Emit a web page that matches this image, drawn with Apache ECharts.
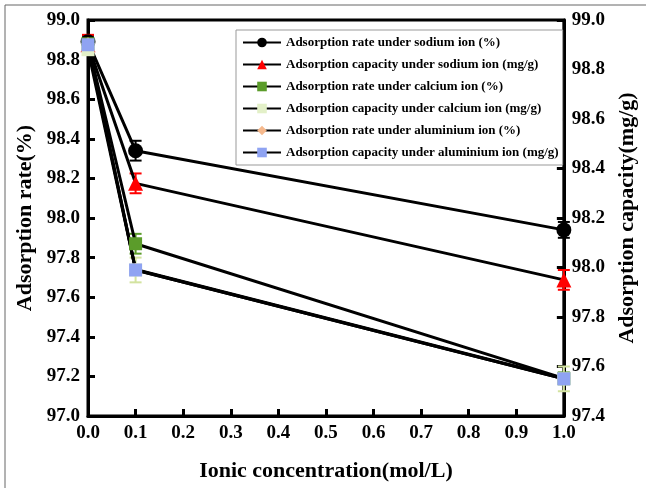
<!DOCTYPE html>
<html><head><meta charset="utf-8">
<script src="https://cdn.jsdelivr.net/npm/echarts@6/dist/echarts.min.js"></script>
<style>html,body{margin:0;padding:0;background:#fff}#c{width:646px;height:488px}</style>
</head><body><div id="c"></div>
<script>
const xVals = [0, 0.1, 1.0];
const xTicks = ['0.0','0.1','0.2','0.3','0.4','0.5','0.6','0.7','0.8','0.9','1.0'];
const naRate = [98.89, 98.34, 97.94];
const naRateErr = [0.03, 0.05, 0.04];
const naCap = [98.90, 98.34, 97.95];
const naCapErr = [0.04, 0.04, 0.04];
const caRate = [98.88, 97.87, 97.19];
const caRateErr = [0.03, 0.05, 0.03];
const caCap = [98.88, 97.99, 97.55];
const caCapErr = [0.02, 0.05, 0.05];
const alRate = [98.88, 97.74, 97.19];
const alRateErr = [0.02, 0.02, 0.02];
const alCap = [98.90, 97.99, 97.55];
const alCapErr = [0.02, 0.02, 0.02];
const names = [
 'Adsorption rate under sodium ion (%)',
 'Adsorption capacity under sodium ion (mg/g)',
 'Adsorption rate under calcium ion (%)',
 'Adsorption capacity under calcium ion (mg/g)',
 'Adsorption rate under aluminium ion (%)',
 'Adsorption capacity under aluminium ion (mg/g)'
];
const FONT = '"Liberation Serif", "Times New Roman", serif';
const defs = [
 {vals: naRate, err: naRateErr, axis: 0, color: '#000000', symbol: 'circle', size: 15},
 {vals: naCap, err: naCapErr, axis: 1, color: '#ff0000', symbol: 'triangle', size: 15},
 {vals: caRate, err: caRateErr, axis: 0, color: '#5b9c2a', symbol: 'rect', size: 13},
 {vals: caCap, err: caCapErr, axis: 1, color: '#e3f0c8', symbol: 'rect', size: 13},
 {vals: alRate, err: alRateErr, axis: 0, color: '#f6b98d', symbol: 'diamond', size: 13},
 {vals: alCap, err: alCapErr, axis: 1, color: '#8fa3f2', symbol: 'rect', size: 13}
];
const series = [];
defs.forEach((d, i) => {
  series.push({
    type: 'custom', yAxisIndex: d.axis, z: 3,
    data: xVals.map((x, k) => [x, d.vals[k], d.err[k]]),
    renderItem: function (params, api) {
      const x = api.value(0), v = api.value(1), e = api.value(2);
      const hi = api.coord([x, v + e]); const lo = api.coord([x, v - e]);
      const cw = 6;
      const st = {stroke: d.color === '#e3f0c8' ? '#d3e3a0' : d.color, lineWidth: 2};
      return {type: 'group', children: [
        {type: 'line', shape: {x1: hi[0], y1: hi[1], x2: lo[0], y2: lo[1]}, style: st},
        {type: 'line', shape: {x1: hi[0]-cw, y1: hi[1], x2: hi[0]+cw, y2: hi[1]}, style: st},
        {type: 'line', shape: {x1: lo[0]-cw, y1: lo[1], x2: lo[0]+cw, y2: lo[1]}, style: st}
      ]};
    },
    silent: true
  });
  series.push({
    name: names[i], type: 'line', yAxisIndex: d.axis, z: 4,
    data: xVals.map((x, k) => [x, d.vals[k]]),
    symbol: d.symbol, symbolSize: d.size, showAllSymbol: true,
    lineStyle: {color: '#000', width: 3},
    itemStyle: {color: d.color, borderWidth: 0},
    emphasis: {disabled: true},
    animation: false
  });
});
const chart = echarts.init(document.getElementById('c'), null, {renderer: 'canvas'});
const axLabel = {fontFamily: FONT, fontWeight: 'bold', fontSize: 19, color: '#000'};
const nameStyle = {fontFamily: FONT, fontWeight: 'bold', fontSize: 22, color: '#000'};
chart.setOption({
  animation: false,
  backgroundColor: '#fff',
  graphic: [{type: 'rect', shape: {x: 5, y: 5, width: 800, height: 700}, style: {fill: 'none', stroke: '#666', lineWidth: 1}, z: -1}],
  grid: {left: 88, right: 78, top: 20, bottom: 72, show: true, borderColor: '#000', borderWidth: 3},
  legend: {
    data: names, left: 236, top: 30, orient: 'vertical',
    itemWidth: 38, itemHeight: 12, itemGap: 9, padding: [6, 4, 6, 6],
    borderColor: '#999', borderWidth: 1, backgroundColor: '#fff',
    textStyle: {fontFamily: FONT, fontWeight: 'bold', fontSize: 13, color: '#000'},
    selectedMode: false
  },
  xAxis: {
    type: 'value', min: 0, max: 1, interval: 0.1,
    name: 'Ionic concentration(mol/L)', nameLocation: 'middle', nameGap: 44, nameTextStyle: nameStyle,
    axisLine: {lineStyle: {color: '#000', width: 3}},
    axisTick: {inside: true, length: 7, lineStyle: {color: '#000', width: 3}},
    axisLabel: Object.assign({margin: 8, formatter: (v) => xTicks[Math.round(v * 10)]}, axLabel),
    splitLine: {show: false}
  },
  yAxis: [{
    type: 'value', min: 97.0, max: 99.0, interval: 0.2,
    name: 'Adsorption rate(%)', nameLocation: 'middle', nameGap: 52, nameTextStyle: nameStyle,
    axisLine: {show: true, lineStyle: {color: '#000', width: 3}},
    axisTick: {show: true, inside: true, length: 7, lineStyle: {color: '#000', width: 3}},
    axisLabel: Object.assign({margin: 8, formatter: (v) => v.toFixed(1)}, axLabel),
    splitLine: {show: false}
  }, {
    type: 'value', min: 97.4, max: 99.0, interval: 0.2, position: 'right',
    name: 'Adsorption capacity(mg/g)', nameLocation: 'middle', nameGap: 50, nameRotate: 90, nameTextStyle: nameStyle,
    axisLine: {show: true, lineStyle: {color: '#000', width: 3}},
    axisTick: {show: true, inside: true, length: 7, lineStyle: {color: '#000', width: 3}},
    axisLabel: Object.assign({margin: 8, formatter: (v) => v.toFixed(1)}, axLabel),
    splitLine: {show: false}
  }],
  series: series
});
</script></body></html>
